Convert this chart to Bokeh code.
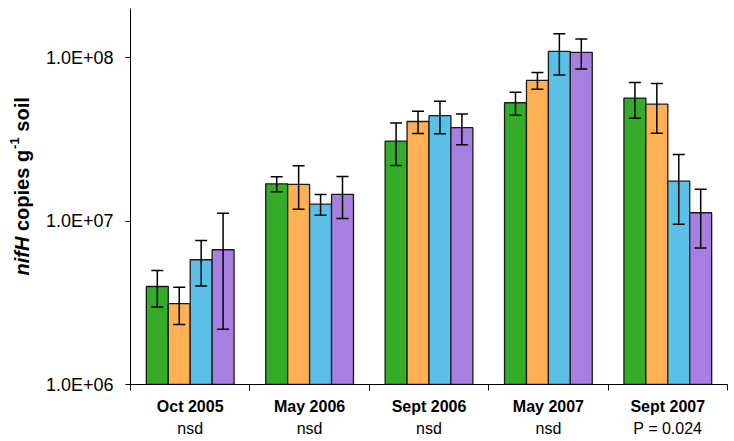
import numpy as np
from bokeh.plotting import figure
from bokeh.layouts import row
from bokeh.models import (ColumnDataSource, Range1d, FixedTicker, LinearAxis,
                          Whisker, TeeHead, Label)
from bokeh.embed import file_html
from bokeh.resources import INLINE

# ---------------- data ----------------
dates = ["Oct 2005", "May 2006", "Sept 2006", "May 2007", "Sept 2007"]
stats = ["nsd", "nsd", "nsd", "nsd", "P = 0.024"]

green = [3.98e6, 1.69e7, 3.09e7, 5.30e7, 5.66e7]
green_err = [1.0e6, 0.18e7, 0.90e7, 0.85e7, 1.40e7]
orange = [3.13e6, 1.68e7, 4.07e7, 7.26e7, 5.20e7]
orange_err = [0.8e6, 0.50e7, 0.63e7, 0.86e7, 1.75e7]
blue = [5.80e6, 1.27e7, 4.42e7, 1.093e8, 1.756e7]
blue_err = [1.8e6, 0.185e7, 1.0e7, 3.1e7, 0.80e7]
purple = [6.68e6, 1.456e7, 3.73e7, 1.078e8, 1.125e7]
purple_err = [4.5e6, 0.42e7, 0.80e7, 2.25e7, 0.44e7]

y_ticks = [1e6, 1e7, 1e8]
y_tick_labels = ["1.0E+06", "1.0E+07", "1.0E+08"]

series = [green, orange, blue, purple]
errors = [green_err, orange_err, blue_err, purple_err]
colors = ["#35AB2A", "#FFB055", "#5BC0E8", "#A67FE0"]

TITLE_W = 42
TOTAL_W = 734
TOTAL_H = 441

# ---------------- main figure ----------------
p = figure(width=TOTAL_W - TITLE_W, height=TOTAL_H, output_backend="svg",
           toolbar_location=None,
           x_range=Range1d(0, len(dates)), y_range=Range1d(1e6, 2e8),
           y_axis_type="log", min_border_left=129 - TITLE_W, min_border_right=7,
           min_border_top=8, min_border_bottom=57)
p.outline_line_color = None
p.xgrid.visible = False
p.ygrid.visible = False
p.background_fill_color = "white"

centers = np.arange(len(dates)) + 0.5
bw = 0.1837
offsets = [-1.5 * bw, -0.5 * bw, 0.5 * bw, 1.5 * bw]

sources = []
for vals, errs, col, off in zip(series, errors, colors, offsets):
    v = np.array(vals)
    e = np.array(errs)
    src = ColumnDataSource(dict(x=centers + off, top=v, upper=v + e, lower=v - e))
    sources.append(src)
    p.vbar(x="x", top="top", bottom=1e6, width=bw, source=src,
           fill_color=col, line_color="#1a1a1a", line_width=1.3)

for src in sources:
    w = Whisker(source=src, base="x", upper="upper", lower="lower",
                dimension="height", line_color="black", line_width=1.5,
                level="overlay",
                upper_head=TeeHead(size=12, line_color="black", line_width=1.5),
                lower_head=TeeHead(size=12, line_color="black", line_width=1.5))
    p.add_layout(w)

# ---------------- y axis ----------------
ya = p.yaxis[0]
ya.ticker = FixedTicker(ticks=y_ticks)
ya.major_label_overrides = {float(t): l for t, l in zip(y_ticks, y_tick_labels)}
ya.major_label_text_font = "Liberation Sans"
ya.major_label_text_font_size = "18px"
ya.major_label_text_color = "black"
ya.major_tick_out = 5
ya.major_tick_in = 0
ya.minor_tick_line_color = None
ya.axis_line_color = "black"
ya.major_tick_line_color = "black"
ya.major_label_standoff = 12

# ---------------- x axes ----------------
xa = p.xaxis[0]
xa.ticker = FixedTicker(ticks=list(centers), minor_ticks=list(range(len(dates) + 1)))
xa.major_label_overrides = {float(c): d for c, d in zip(centers, dates)}
xa.major_tick_line_color = None
xa.major_tick_out = 0
xa.major_tick_in = 0
xa.minor_tick_line_color = "black"
xa.minor_tick_out = 6
xa.minor_tick_in = 0
xa.axis_line_color = "black"
xa.major_label_text_font = "Liberation Sans"
xa.major_label_text_font_style = "bold"
xa.major_label_text_font_size = "16px"
xa.major_label_text_color = "black"
xa.major_label_standoff = 7

xa2 = LinearAxis(ticker=FixedTicker(ticks=list(centers)))
xa2.major_label_overrides = {float(c): s for c, s in zip(centers, stats)}
xa2.axis_line_color = None
xa2.major_tick_line_color = None
xa2.minor_tick_line_color = None
xa2.major_tick_out = 0
xa2.major_tick_in = 0
xa2.major_label_text_font = "Liberation Sans"
xa2.major_label_text_font_size = "16px"
xa2.major_label_text_color = "black"
xa2.major_label_standoff = 2
p.add_layout(xa2, "below")

# ---------------- y axis title (mixed styles) in a narrow side figure ----------------
t = figure(width=TITLE_W, height=TOTAL_H, output_backend="svg", toolbar_location=None,
           x_axis_location=None, y_axis_location=None,
           x_range=Range1d(0, 1), y_range=Range1d(0, 1),
           min_border_left=0, min_border_right=0, min_border_top=0, min_border_bottom=0)
t.outline_line_color = None
t.xgrid.visible = False
t.ygrid.visible = False

tx = 21
ty = 109
fs = "20px"
pieces = [
    ("nifH", "bold italic", fs, 0, 0),
    ("copies g", "bold", fs, 44.5, 0),
    ("-1", "bold", "13px", 126.6, -7.5),
    ("soil", "bold", fs, 143.8, 0),
]
for txt, style, size, dy, dx in pieces:
    t.add_layout(Label(x=tx + dx, y=ty + dy, x_units="screen", y_units="screen",
                       text=txt, angle=np.pi / 2, text_font="Liberation Sans",
                       text_font_style=style, text_font_size=size,
                       text_color="black", text_align="left",
                       text_baseline="alphabetic"))

layout = row(t, p)
open("out.html", "w").write(file_html(layout, INLINE))
